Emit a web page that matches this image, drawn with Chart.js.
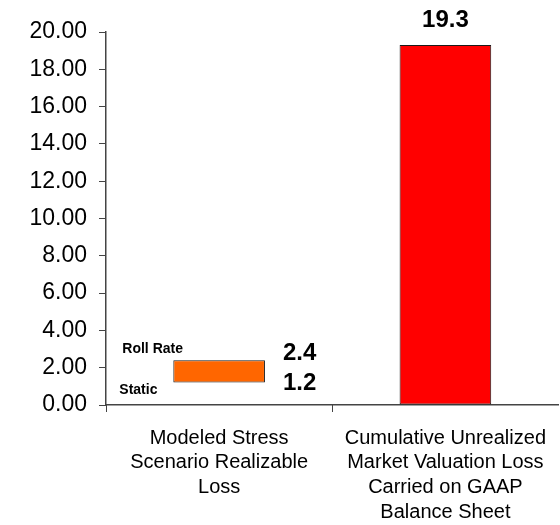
<!DOCTYPE html>
<html>
<head>
<meta charset="utf-8">
<script src="https://cdn.jsdelivr.net/npm/chart.js@4.4.1/dist/chart.umd.min.js"></script>
<style>
  html, body { margin: 0; padding: 0; background: #fff; }
  #wrap { width: 560px; height: 525px; }
</style>
</head>
<body>
<div id="wrap"><canvas id="chart"></canvas></div>
<script>
// categories (multi-line labels)
const categories = [
    ['Modeled Stress', 'Scenario Realizable', 'Loss'],
    ['Cumulative Unrealized', 'Market Valuation Loss', 'Carried on GAAP', 'Balance Sheet']
];
// floating range for the first bar, plain value for the second
const lowValues = [1.2, 0];
const highValues = [2.4, 19.3];
const barColors = ['#FF6600', '#FF0000'];
// axis ticks
const yMin = 0;
const yMax = 20;
const yStep = 2;
// side notes on the first bar
const lowNote = 'Static';
const highNote = 'Roll Rate';

const barData = lowValues.map((lo, i) => [lo, highValues[i]]);
const axisColor = '#444';

// tick marks on the category axis: at the left edge of each category only
const categoryTicks = {
    id: 'categoryTicks',
    afterDraw(chart) {
        const ctx = chart.ctx;
        const x = chart.scales.x;
        const half = (x.getPixelForValue(1) - x.getPixelForValue(0)) / 2;
        ctx.save();
        ctx.strokeStyle = axisColor;
        ctx.lineWidth = 1;
        categories.forEach((_, i) => {
            const px = Math.round(x.getPixelForValue(i) - half) + 0.5;
            ctx.beginPath();
            ctx.moveTo(px, x.top);
            ctx.lineTo(px, x.top + 7);
            ctx.stroke();
        });
        ctx.restore();
    }
};

// draws the value labels and the Static / Roll Rate notes
const valueLabels = {
    id: 'valueLabels',
    afterDatasetsDraw(chart) {
        const ctx = chart.ctx;
        const y = chart.scales.y;
        const bars = chart.getDatasetMeta(0).data;
        ctx.save();
        ctx.fillStyle = '#000';

        // first bar: range labels on the right, notes on the left
        const b0 = bars[0];
        const left0 = b0.x - b0.width / 2;
        const right0 = b0.x + b0.width / 2;
        ctx.font = 'bold 24px "Liberation Sans", Arial, sans-serif';
        ctx.textAlign = 'left';
        ctx.textBaseline = 'alphabetic';
        ctx.fillText(highValues[0].toFixed(1), right0 + 18, y.getPixelForValue(highValues[0]));
        ctx.textBaseline = 'middle';
        ctx.fillText(lowValues[0].toFixed(1), right0 + 18, y.getPixelForValue(lowValues[0]) + 1);

        ctx.font = 'bold 14px "Liberation Sans", Arial, sans-serif';
        ctx.textBaseline = 'alphabetic';
        ctx.fillText(highNote, left0 - 51, y.getPixelForValue(highValues[0]) - 7);
        ctx.fillText(lowNote, left0 - 54, y.getPixelForValue(lowValues[0]) + 11);

        // second bar: value on top
        const b1 = bars[1];
        ctx.font = 'bold 24px "Liberation Sans", Arial, sans-serif';
        ctx.textAlign = 'center';
        ctx.fillText(highValues[1].toFixed(1), b1.x, y.getPixelForValue(highValues[1]) - 18);
        ctx.restore();
    }
};

new Chart(document.getElementById('chart'), {
    type: 'bar',
    data: {
        labels: categories,
        datasets: [{
            data: barData,
            backgroundColor: barColors,
            borderColor: '#1a1a1a',
            borderWidth: 1,
            borderSkipped: false,
            categoryPercentage: 1,
            barPercentage: 0.405
        }]
    },
    options: {
        responsive: true,
        maintainAspectRatio: false,
        animation: false,
        layout: { padding: { top: 32, right: 0, left: 0, bottom: 0 } },
        plugins: {
            legend: { display: false },
            tooltip: { enabled: false }
        },
        scales: {
            x: {
                // grid kept for layout, marks drawn by categoryTicks instead
                grid: {
                    offset: true,
                    drawOnChartArea: false,
                    drawTicks: true,
                    tickLength: 7,
                    color: 'rgba(0,0,0,0)',
                    tickColor: 'rgba(0,0,0,0)'
                },
                border: { display: true, color: axisColor, width: 1.5 },
                ticks: {
                    color: '#000',
                    padding: 14,
                    maxRotation: 0,
                    autoSkip: false,
                    font: { family: '"Liberation Sans", Arial, sans-serif', size: 20, lineHeight: 1.23 }
                },
                afterFit(scale) { scale.height = 120; }
            },
            y: {
                min: yMin,
                max: yMax,
                grid: {
                    drawOnChartArea: false,
                    drawTicks: true,
                    tickLength: 7,
                    color: axisColor
                },
                border: { display: true, color: axisColor, width: 1.5 },
                ticks: {
                    stepSize: yStep,
                    color: '#000',
                    padding: 12,
                    font: { family: '"Liberation Sans", Arial, sans-serif', size: 23 },
                    callback: v => v.toFixed(2)
                },
                afterFit(scale) { scale.width = 106; }
            }
        }
    },
    plugins: [valueLabels, categoryTicks]
});
</script>
</body>
</html>
